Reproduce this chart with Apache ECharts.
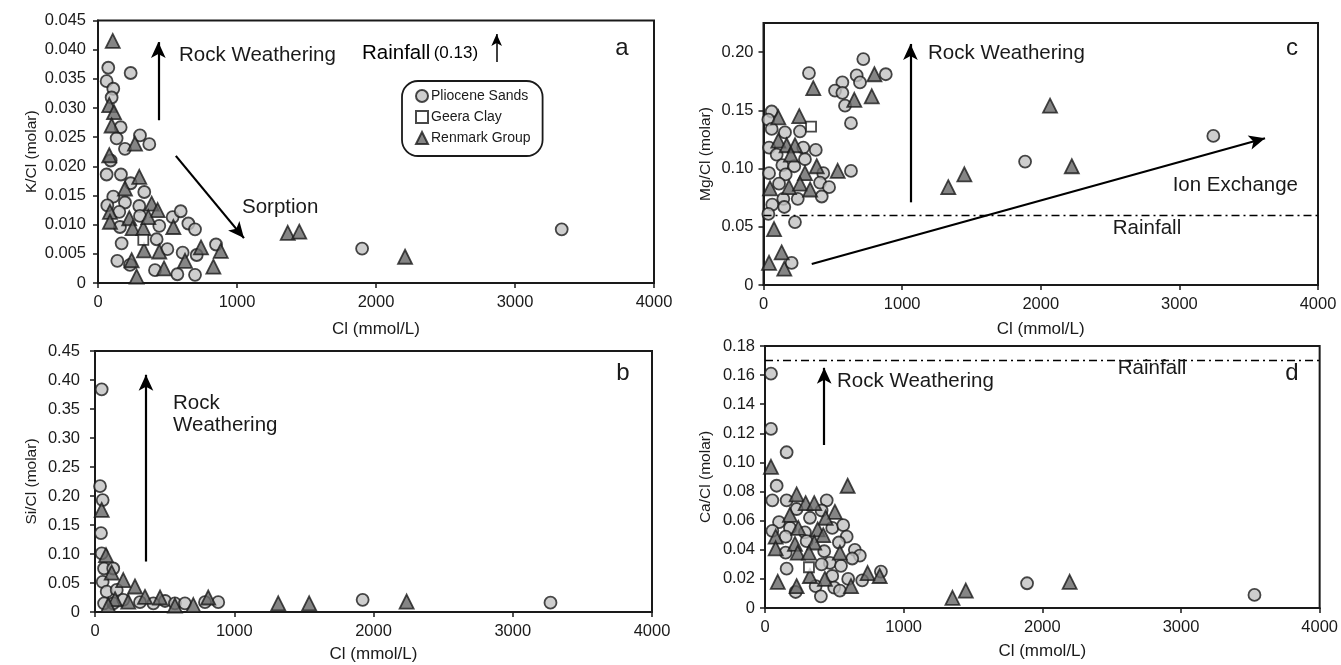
<!DOCTYPE html>
<html><head><meta charset="utf-8">
<script src="https://cdn.jsdelivr.net/npm/echarts@6/dist/echarts.min.js"></script>
<style>html,body{margin:0;padding:0;background:#fff}#c{width:1341px;height:665px}</style>
</head><body><div id="c"></div>
<script>
// ---------- DATA (Cl mmol/L, molar ratio) ----------
const seriesNames = ['Pliocene Sands', 'Geera Clay', 'Renmark Group'];
const xTickValues = [0, 1000, 2000, 3000, 4000];

// Panel a: K/Cl
const aPliocene = [[74,0.0369],[235,0.0360],[62,0.0346],[110,0.0333],[98,0.0318],[163,0.0267],[134,0.0248],[302,0.0253],[194,0.0230],[369,0.0238],[91,0.0210],[62,0.0186],[165,0.0186],[235,0.0171],[333,0.0156],[110,0.0148],[194,0.0138],[67,0.0133],[297,0.0132],[153,0.0122],[302,0.0115],[537,0.0113],[595,0.0123],[650,0.0102],[698,0.0092],[441,0.0098],[158,0.0096],[170,0.0068],[422,0.0075],[499,0.0058],[609,0.0052],[710,0.0048],[849,0.0066],[139,0.0038],[230,0.0031],[410,0.0022],[571,0.0015],[698,0.0014],[1900,0.0059],[3336,0.0092]];
const aGeera = [[326,0.0074]];
const aRenmark = [[106,0.0415],[81,0.0305],[115,0.0293],[98,0.0270],[266,0.0239],[81,0.0219],[297,0.0182],[194,0.0162],[386,0.0136],[429,0.0125],[86,0.0122],[86,0.0105],[225,0.0111],[249,0.0094],[326,0.0094],[362,0.0113],[542,0.0096],[331,0.0056],[441,0.0054],[741,0.0061],[883,0.0055],[242,0.0039],[475,0.0025],[626,0.0038],[830,0.0028],[278,0.0011],[1365,0.0086],[1448,0.0088],[2209,0.0045]];

// Panel b: Si/Cl
const bPliocene = [[48,0.384],[36,0.217],[55,0.193],[43,0.136],[48,0.101],[65,0.075],[131,0.075],[55,0.052],[84,0.035],[156,0.038],[65,0.015],[131,0.015],[203,0.021],[323,0.017],[419,0.015],[503,0.019],[574,0.015],[646,0.015],[790,0.017],[885,0.017],[1922,0.021],[3271,0.016]];
const bGeera = [];
const bRenmark = [[48,0.176],[79,0.098],[120,0.068],[203,0.055],[287,0.044],[359,0.026],[467,0.025],[813,0.025],[144,0.022],[95,0.012],[239,0.018],[574,0.011],[706,0.012],[1316,0.015],[1538,0.015],[2238,0.018]];

// Panel c: Mg/Cl
const cPliocene = [[720,0.194],[328,0.182],[882,0.181],[672,0.180],[696,0.174],[569,0.174],[516,0.167],[569,0.165],[588,0.154],[631,0.139],[59,0.149],[35,0.142],[59,0.134],[155,0.131],[263,0.132],[40,0.118],[95,0.112],[287,0.118],[377,0.116],[299,0.108],[136,0.103],[222,0.102],[40,0.096],[160,0.095],[431,0.096],[631,0.098],[112,0.087],[408,0.088],[473,0.084],[247,0.074],[420,0.076],[63,0.069],[143,0.074],[150,0.067],[35,0.061],[227,0.054],[203,0.019],[1887,0.106],[3245,0.128]];
const cGeera = [[343,0.136]];
const cRenmark = [[359,0.169],[800,0.181],[655,0.159],[781,0.162],[107,0.144],[258,0.145],[107,0.124],[167,0.120],[227,0.120],[198,0.112],[384,0.102],[299,0.096],[535,0.098],[47,0.083],[184,0.084],[263,0.087],[336,0.082],[76,0.048],[131,0.028],[40,0.019],[150,0.014],[1333,0.084],[1449,0.095],[2067,0.154],[2224,0.102]];

// Panel d: Ca/Cl
const dPliocene = [[43,0.161],[43,0.123],[156,0.107],[84,0.084],[53,0.074],[156,0.074],[228,0.068],[445,0.074],[408,0.067],[324,0.062],[101,0.059],[180,0.055],[53,0.053],[288,0.052],[485,0.055],[564,0.057],[589,0.049],[149,0.049],[300,0.046],[533,0.045],[427,0.039],[149,0.038],[648,0.040],[684,0.036],[629,0.034],[468,0.031],[408,0.030],[548,0.029],[156,0.027],[836,0.025],[485,0.022],[600,0.020],[701,0.019],[365,0.015],[499,0.014],[540,0.012],[221,0.011],[403,0.008],[1890,0.017],[3530,0.009]];
const dGeera = [[317,0.028]];
const dRenmark = [[43,0.097],[596,0.084],[228,0.078],[293,0.072],[355,0.072],[180,0.064],[504,0.066],[437,0.062],[240,0.055],[380,0.054],[420,0.050],[77,0.049],[216,0.044],[355,0.045],[77,0.041],[236,0.038],[317,0.038],[540,0.038],[324,0.022],[432,0.020],[740,0.024],[827,0.022],[92,0.018],[228,0.015],[620,0.015],[1352,0.007],[1448,0.012],[2197,0.018]];

// Reference levels & process arrows (data coordinates)
const rainfallC = 0.06;
const rainfallD = 0.175;
const arrowsA = [[[434,0.0279],[434,0.0413]], [[560,0.0218],[1050,0.0077]]];
const rainArrowA = [[2868,0.0379],[2868,0.0427]];
const arrowsB = [[[366,0.087],[366,0.409]]];
const arrowsC = [[[1060,0.071],[1060,0.207]], [[348,0.018],[3618,0.126]]];
const arrowsD = [[[427,0.112],[427,0.165]]];

// ---------- CHART ----------
const FONT = 'Liberation Sans, Arial, sans-serif';
const INK = '#1a1a1a';
const grids = [
  {left: 98, top: 20.5, width: 556, height: 262.5},   // a
  {left: 95, top: 351, width: 557, height: 261},      // b
  {left: 763.5, top: 23, width: 554.5, height: 262},  // c
  {left: 765, top: 346, width: 555, height: 262}      // d
].map(g => Object.assign(g, {show: true, borderColor: INK, borderWidth: 2, backgroundColor: 'transparent'}));

function xAx(i, gap) {
  return {gridIndex: i, type: 'value', min: 0, max: 4000, interval: 1000,
    name: 'Cl (mmol/L)', nameLocation: 'middle', nameGap: gap,
    nameTextStyle: {fontFamily: FONT, fontSize: 17, color: INK},
    axisLine: {show: true, onZero: false, lineStyle: {color: INK, width: 2}},
    axisTick: {show: true, length: 5, lineStyle: {color: INK, width: 1.5}},
    axisLabel: {fontFamily: FONT, fontSize: 16.5, color: INK, margin: 11,
      formatter: v => xTickValues.includes(v) ? String(v) : ''},
    splitLine: {show: false}};
}
function yAx(i, name, max, step, dec, gap, margin, showMax) {
  return {gridIndex: i, type: 'value', min: 0, max: max, interval: step,
    name: name, nameLocation: 'middle', nameGap: gap, nameRotate: 90,
    nameTextStyle: {fontFamily: FONT, fontSize: 15.5, color: INK},
    axisLine: {show: true, onZero: false, lineStyle: {color: INK, width: 2}},
    axisTick: {show: true, length: 5, lineStyle: {color: INK, width: 1.5}},
    axisLabel: {fontFamily: FONT, fontSize: 16.5, color: INK, margin: margin, showMaxLabel: showMax,
      formatter: v => v === 0 ? '0' : v.toFixed(dec)},
    splitLine: {show: false}};
}

const circleStyle = {color: '#c2c2c2', borderColor: INK, borderWidth: 1.8};
const triStyle = {color: '#676767', borderColor: INK, borderWidth: 1.8};
const sqStyle = {color: '#ffffff', borderColor: INK, borderWidth: 1.8};

function pts(i, p, g, r) {
  return [
    {name: seriesNames[0], type: 'scatter', xAxisIndex: i, yAxisIndex: i, data: p, symbol: 'circle', symbolSize: 12, itemStyle: circleStyle, z: 3},
    {name: seriesNames[1], type: 'scatter', xAxisIndex: i, yAxisIndex: i, data: g, symbol: 'rect', symbolSize: 10, itemStyle: sqStyle, z: 4},
    {name: seriesNames[2], type: 'scatter', xAxisIndex: i, yAxisIndex: i, data: r, symbol: 'triangle', symbolSize: 14, itemStyle: triStyle, z: 3}
  ];
}
function arrowLines(arr, size) {
  return arr.map(a => [{coord: a[0], symbol: 'none'}, {coord: a[1], symbol: 'arrow', symbolSize: size || [11, 16]}]);
}
function annot(i, arrows, rain, extra) {
  const data = arrowLines(arrows).concat(extra || []);
  const s = {type: 'line', xAxisIndex: i, yAxisIndex: i, data: [], silent: true, z: 5,
    markLine: {silent: true, animation: false, symbol: ['none', 'arrow'], label: {show: false},
      lineStyle: {color: '#000', width: 2.2, type: 'solid'}, data: data}};
  const out = [s];
  if (rain !== null) {
    out.push({type: 'line', xAxisIndex: i, yAxisIndex: i, data: [], silent: true, z: 2,
      markLine: {silent: true, animation: false, symbol: ['none', 'none'], label: {show: false},
        lineStyle: {color: '#000', width: 1.4, type: [8, 4, 2, 4]}, data: [{yAxis: rain}]}});
  }
  return out;
}

function txt(x, y, s, size, align) {
  return {type: 'text', x: x, y: y, z: 10,
    style: {text: s, fontFamily: FONT, fontSize: size, fill: INK, textAlign: align || 'left', textVerticalAlign: 'middle'}};
}

const option = {
  animation: false,
  backgroundColor: '#fff',
  grid: grids,
  xAxis: [xAx(0, 38), xAx(1, 34), xAx(2, 36), xAx(3, 35)],
  yAxis: [
    yAx(0, 'K/Cl (molar)', 0.045, 0.005, 3, 58, 12, true),
    yAx(1, 'Si/Cl (molar)', 0.45, 0.05, 2, 55, 15, true),
    yAx(2, 'Mg/Cl (molar)', 0.225, 0.05, 2, 50, 10, false),
    yAx(3, 'Ca/Cl (molar)', 0.18, 0.02, 2, 51, 10, true)
  ],
  legend: {data: [
      {name: seriesNames[0], icon: 'circle'},
      {name: seriesNames[1], icon: 'rect'},
      {name: seriesNames[2], icon: 'triangle'}],
    orient: 'vertical', left: 402, top: 81, itemGap: 7, itemWidth: 12, itemHeight: 12,
    padding: [8, 12, 11, 13], borderColor: INK, borderWidth: 1.8, borderRadius: 16,
    backgroundColor: '#fff', selectedMode: false,
    textStyle: {fontFamily: FONT, fontSize: 14, color: INK, padding: [0, 0, 0, -2]}},
  series: [].concat(
    pts(0, aPliocene, aGeera, aRenmark),
    pts(1, bPliocene, bGeera, bRenmark),
    pts(2, cPliocene, cGeera, cRenmark),
    pts(3, dPliocene, dGeera, dRenmark),
    annot(0, arrowsA, null, [[{coord: rainArrowA[0], symbol: 'none'}, {coord: rainArrowA[1], symbol: 'arrow', symbolSize: [8, 12], lineStyle: {width: 1.5}}]]),
    annot(1, arrowsB, null),
    annot(2, arrowsC, rainfallC),
    annot(3, arrowsD, rainfallD)
  ),
  graphic: [
    txt(179, 55, 'Rock Weathering', 20.5),
    {type: 'text', x: 362, y: 53, z: 10, style: {text: '{a|Rainfall} {b|(0.13)}', textVerticalAlign: 'middle',
      rich: {a: {fontFamily: FONT, fontSize: 20.5, color: INK}, b: {fontFamily: FONT, fontSize: 17, color: INK}}}},
    txt(242, 207, 'Sorption', 20.5),
    txt(622, 48, 'a', 24, 'center'),
    txt(173, 403, 'Rock', 20.5),
    txt(173, 425, 'Weathering', 20.5),
    txt(623, 373, 'b', 24, 'center'),
    txt(928, 53, 'Rock Weathering', 20.5),
    txt(1298, 185, 'Ion Exchange', 20.5, 'right'),
    txt(1147, 228, 'Rainfall', 20.5, 'center'),
    txt(1292, 48, 'c', 24, 'center'),
    txt(837, 381, 'Rock Weathering', 20.5),
    txt(1152, 368, 'Rainfall', 20.5, 'center'),
    txt(1292, 373, 'd', 24, 'center')
  ]
};

const chart = echarts.init(document.getElementById('c'), null, {renderer: 'canvas'});
chart.setOption(option);
</script></body></html>
